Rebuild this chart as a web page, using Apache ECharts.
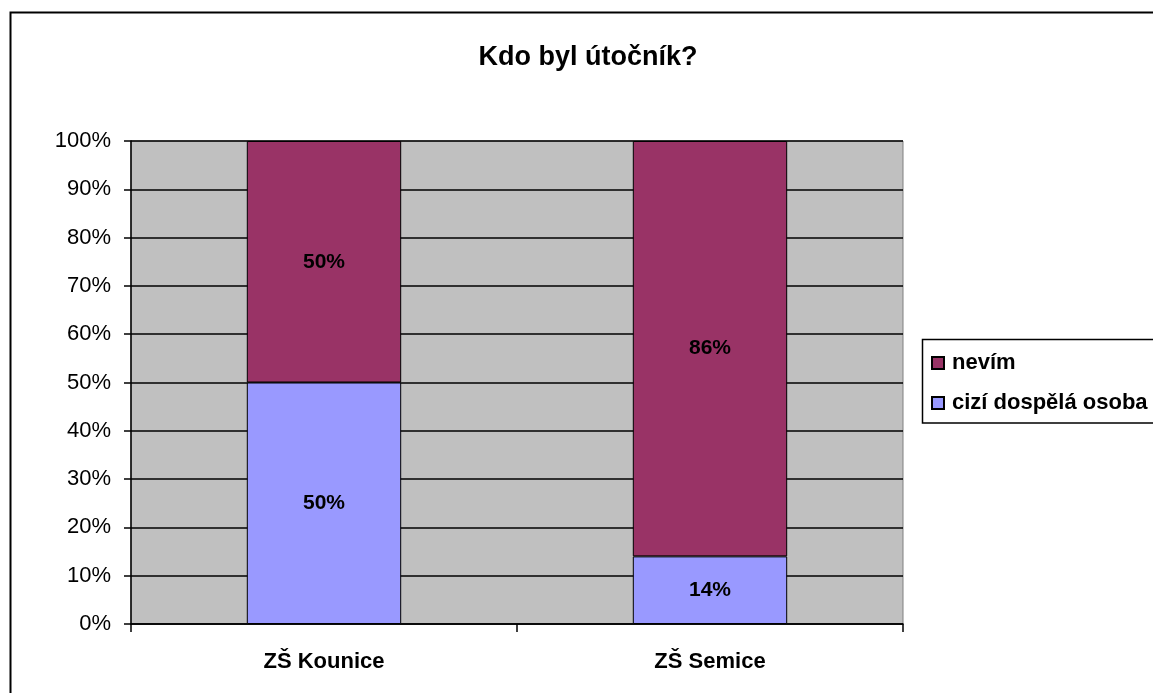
<!DOCTYPE html>
<html><head><meta charset="utf-8">
<script src="https://cdn.jsdelivr.net/npm/echarts@6/dist/echarts.min.js"></script>
<style>html,body{margin:0;padding:0;background:#fff}#c{width:1153px;height:693px}</style>
</head><body><div id="c"></div>
<script>
const categories = ['ZŠ Kounice', 'ZŠ Semice'];
const cizi = [50, 14];
const nevim = [50, 86];
const seriesNames = ['nevím', 'cizí dospělá osoba'];
const yTicks = [0, 10, 20, 30, 40, 50, 60, 70, 80, 90, 100];

const chart = echarts.init(document.getElementById('c'));
const font = 'Liberation Sans, Arial, sans-serif';
const lbl = {show: true, position: 'inside', formatter: p => p.value + '%', color: '#000', fontFamily: font, fontWeight: 'bold', fontSize: 21};
chart.setOption({
  animation: false,
  title: {text: 'Kdo byl útočník?', left: 588, top: 44, textAlign: 'center', padding: 0,
    textStyle: {fontFamily: font, fontWeight: 'bold', fontSize: 27, color: '#000'}},
  graphic: [
    {type: 'rect', shape: {x: 10.5, y: 12.5, width: 1200, height: 800}, style: {fill: 'none', stroke: '#000', lineWidth: 2}, z: -10},
    {type: 'rect', shape: {x: 922.5, y: 339.5, width: 300, height: 83.5}, style: {fill: '#fff', stroke: '#000', lineWidth: 1.5}, z: 0}
  ],
  legend: {
    orient: 'vertical', left: 931, top: 352, padding: 0, itemGap: 18, itemWidth: 12, itemHeight: 12,
    data: seriesNames.map(n => ({name: n, icon: 'rect'})),
    textStyle: {fontFamily: font, fontWeight: 'bold', fontSize: 22, color: '#000', padding: [0,0,0,3]},
    z: 5
  },
  grid: {left: 131, right: 250, top: 141, bottom: 69, show: true, backgroundColor: '#C0C0C0', borderColor: '#808080', borderWidth: 1},
  xAxis: {type: 'category', data: categories,
    axisLine: {lineStyle: {color: '#000', width: 1.5}},
    axisTick: {show: true, length: 8, lineStyle: {color: '#000', width: 1.5}},
    axisLabel: {margin: 27, fontFamily: font, fontWeight: 'bold', fontSize: 22, color: '#000'}},
  yAxis: {type: 'value', min: 0, max: 100, interval: 10,
    axisLine: {show: true, lineStyle: {color: '#000', width: 1.5}},
    axisTick: {show: true, length: 7, lineStyle: {color: '#000', width: 1.5}},
    splitLine: {lineStyle: {color: '#000', width: 1.5}},
    axisLabel: {formatter: v => yTicks.includes(v) ? v + '%' : '', margin: 20, fontFamily: font, fontSize: 22, color: '#000'}},
  series: [
    {name: 'cizí dospělá osoba', type: 'bar', stack: 's', data: cizi, barWidth: '40%', label: lbl,
      itemStyle: {color: '#9999FF', borderColor: '#000', borderWidth: 1}},
    {name: 'nevím', type: 'bar', stack: 's', data: nevim, barWidth: '40%', label: lbl,
      itemStyle: {color: '#993366', borderColor: '#000', borderWidth: 1}}
  ]
});
</script></body></html>
